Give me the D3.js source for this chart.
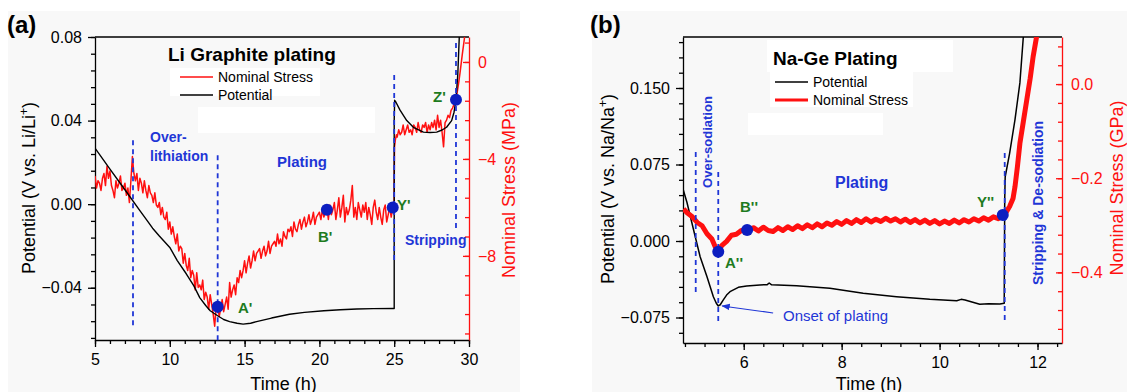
<!DOCTYPE html>
<html>
<head>
<meta charset="utf-8">
<script src="https://cdn.jsdelivr.net/npm/d3@7"></script>
<style>
  body { margin: 0; background: #fff; }
  svg text { font-family: "Liberation Sans", Arial, sans-serif; }
</style>
</head>
<body>
<div id="chart"></div>
<script>
// ---------- panel (a): Li graphite plating ----------
// potential (V vs Li/Li+)
let potentialA = [
  [5.0, 0.0268], [6.0, 0.0168], [7.0, 0.0069], [8.0, -0.0031], [8.5, -0.008], [8.85, -0.0115],
  [9.3, -0.0152], [10.0, -0.0207], [10.5, -0.027], [11.1, -0.0333], [11.6, -0.039],
  [12.0, -0.0447], [12.4, -0.0485], [12.7, -0.051], [13.2, -0.0534], [13.6, -0.0552], [14.0, -0.0562],
  [14.5, -0.057], [14.9, -0.0574], [15.4, -0.057], [15.8, -0.0562], [16.8, -0.0545], [18.0, -0.0527],
  [19.0, -0.0518], [20.3, -0.051], [21.4, -0.0505], [22.5, -0.0502], [23.6, -0.05], [24.95, -0.0499],
  [25.0, -0.0499], [25.0, 0.040], [25.03, 0.0497], [25.1, 0.049], [25.39, 0.045], [25.84, 0.040],
  [26.28, 0.0368], [26.95, 0.0345], [27.4, 0.0343], [27.84, 0.0345], [28.2, 0.0355], [28.5, 0.0368],
  [28.84, 0.040], [29.0, 0.044], [29.13, 0.050], [29.25, 0.062], [29.35, 0.080], [29.42, 0.090]
];

// nominal stress (MPa), noisy red trace
let stressA = [
  [5.0, -4.7], [5.1, -5.2], [5.2, -4.9], [5.3, -5.0], [5.4, -5.3], [5.5, -4.8], [5.6, -4.6], [5.7, -5.1], [5.8, -4.3], [5.9, -4.8],
  [6.0, -4.5], [6.1, -5.1], [6.2, -5.3], [6.3, -5.6], [6.4, -4.9], [6.5, -5.2], [6.6, -5.0], [6.7, -4.7], [6.8, -5.3], [6.9, -5.2],
  [7.0, -5.0], [7.1, -5.5], [7.2, -5.2], [7.3, -5.8], [7.4, -4.9], [7.5, -3.9], [7.6, -4.6], [7.7, -4.9], [7.8, -4.6], [7.9, -5.3],
  [8.0, -4.8], [8.1, -5.0], [8.2, -5.4], [8.3, -4.9], [8.4, -5.3], [8.5, -5.6], [8.6, -5.1], [8.7, -5.4], [8.8, -5.5], [8.9, -5.8],
  [9.0, -5.4], [9.1, -5.9], [9.2, -6.0], [9.3, -5.8], [9.4, -6.3], [9.5, -6.0], [9.6, -6.4], [9.7, -6.5], [9.8, -6.2], [9.9, -6.9],
  [10.0, -6.6], [10.1, -7.1], [10.2, -6.8], [10.3, -7.2], [10.4, -7.5], [10.5, -7.1], [10.6, -7.8], [10.7, -7.6], [10.8, -7.7], [10.9, -8.3],
  [11.0, -7.9], [11.1, -8.4], [11.2, -8.6], [11.3, -8.1], [11.4, -8.9], [11.5, -8.6], [11.6, -8.8], [11.7, -9.4], [11.8, -8.7], [11.9, -9.3],
  [12.0, -9.2], [12.1, -9.4], [12.2, -9.0], [12.3, -9.8], [12.4, -9.5], [12.5, -9.7], [12.6, -10.2], [12.7, -9.6], [12.8, -10.0], [12.9, -10.4],
  [13.0, -10.9], [13.1, -10.1], [13.2, -10.0], [13.3, -10.5], [13.4, -10.2], [13.5, -9.8], [13.6, -10.3], [13.7, -10.0], [13.8, -9.7], [13.9, -10.2],
  [14.0, -9.1], [14.1, -9.7], [14.2, -9.4], [14.3, -9.2], [14.4, -9.6], [14.5, -8.9], [14.6, -9.1], [14.7, -8.6], [14.8, -8.9], [14.9, -8.6],
  [15.0, -8.2], [15.1, -8.7], [15.2, -8.3], [15.3, -8.0], [15.4, -8.5], [15.5, -8.2], [15.6, -7.8], [15.7, -8.2], [15.8, -7.9], [15.9, -7.8],
  [16.0, -7.7], [16.1, -8.1], [16.2, -7.8], [16.3, -7.6], [16.4, -8.0], [16.5, -7.8], [16.6, -7.4], [16.7, -7.9], [16.8, -7.6], [16.9, -7.5],
  [17.0, -7.4], [17.1, -7.6], [17.2, -7.1], [17.3, -7.5], [17.4, -7.3], [17.5, -7.6], [17.6, -7.0], [17.7, -7.2], [17.8, -7.3], [17.9, -6.9],
  [18.0, -7.0], [18.1, -6.8], [18.2, -7.2], [18.3, -6.6], [18.4, -6.9], [18.5, -7.0], [18.6, -6.7], [18.7, -6.5], [18.8, -6.9], [18.9, -6.6],
  [19.0, -6.4], [19.1, -6.8], [19.2, -6.6], [19.3, -6.3], [19.4, -6.7], [19.5, -6.5], [19.6, -6.2], [19.7, -6.7], [19.8, -6.4], [19.9, -6.3],
  [20.0, -6.2], [20.1, -6.5], [20.2, -6.1], [20.3, -6.4], [20.4, -6.2], [20.5, -6.0], [20.6, -6.5], [20.7, -5.9], [20.8, -6.3], [20.9, -6.1],
  [21.0, -5.8], [21.1, -6.5], [21.2, -6.1], [21.3, -5.6], [21.4, -6.4], [21.5, -6.0], [21.6, -5.5], [21.7, -6.6], [21.8, -6.0], [21.9, -6.3],
  [22.0, -6.1], [22.1, -5.7], [22.2, -5.1], [22.3, -6.4], [22.4, -6.0], [22.5, -6.5], [22.6, -5.8], [22.7, -6.1], [22.8, -6.4], [22.9, -5.9],
  [23.0, -6.2], [23.1, -5.8], [23.2, -6.5], [23.3, -6.0], [23.4, -6.3], [23.5, -6.7], [23.6, -6.0], [23.7, -5.7], [23.8, -6.2], [23.9, -6.5],
  [24.0, -6.0], [24.1, -6.4], [24.2, -6.7], [24.3, -6.1], [24.4, -5.9], [24.5, -6.6], [24.6, -6.3], [24.7, -6.0], [24.8, -6.4], [24.9, -6.0],
  [25.0, -6.0], [25.0, -5.0], [25.02, -3.5], [25.08, -3.2], [25.15, -3.0],
  [25.2, -3.1], [25.3, -2.8], [25.4, -3.0], [25.5, -2.9], [25.6, -2.6], [25.7, -3.0], [25.8, -2.8], [25.9, -2.6], [26.0, -2.9], [26.1, -2.8],
  [26.2, -3.0], [26.3, -2.6], [26.4, -2.7], [26.5, -2.9], [26.6, -2.5], [26.7, -2.8], [26.8, -2.9], [26.9, -2.6], [27.0, -2.7], [27.1, -2.5],
  [27.2, -2.9], [27.3, -2.6], [27.4, -2.8], [27.5, -2.5], [27.6, -2.7], [27.7, -2.4], [27.8, -2.8], [27.9, -2.2], [28.0, -2.7], [28.1, -2.4],
  [28.2, -2.9], [28.3, -3.5], [28.4, -2.5], [28.5, -2.4], [28.6, -2.2], [28.7, -2.3], [28.8, -2.0], [28.9, -1.9], [29.0, -1.75], [29.13, -1.56],
  [29.3, -0.9], [29.4, -0.45], [29.55, 0.3], [29.7, 1.0], [29.75, 1.3]
];

// dashed markers: [time, top potential, bottom potential]
let dashesA = [[7.54, 0.0306, -0.0583], [13.2, 0.0234, -0.066], [25.0, 0.0618, -0.027], [29.13, 0.0771, -0.0127]];
// labelled points on the stress trace: [name, time, stress]
let pointsA = [["A'", 13.2, -10.1], ["B'", 20.5, -6.1], ["Y'", 24.9, -6.0], ["Z'", 29.13, -1.56]];

let xTicksA = [5, 10, 15, 20, 25, 30];
let potTicksA = [0.08, 0.04, 0.0, -0.04];
let stressTicksA = [0, -4, -8];

// ---------- panel (b): Na-Ge plating ----------
let potentialB = [
  [4.76, 0.051], [4.84, 0.038], [4.91, 0.024], [5.01, 0.0042], [5.11, -0.0154], [5.25, -0.035],
  [5.38, -0.0546], [5.44, -0.061], [5.48, -0.0637], [5.52, -0.0625], [5.58, -0.058], [5.65, -0.053],
  [5.72, -0.0497], [5.89, -0.0454], [6.06, -0.0441], [6.33, -0.0431], [6.48, -0.0428], [6.52, -0.0412],
  [6.57, -0.043], [7.08, -0.0438], [7.76, -0.0464], [8.44, -0.0513], [9.12, -0.0546], [9.8, -0.0572],
  [10.35, -0.0585], [10.44, -0.0572], [10.52, -0.0578], [10.82, -0.062], [11.0, -0.0615], [11.23, -0.0618],
  [11.32, -0.061], [11.33, 0.040], [11.34, 0.063], [11.43, 0.086], [11.54, 0.119], [11.64, 0.155], [11.71, 0.2], [11.74, 0.215]
];

let stressB = [
  [4.77, -0.265], [4.85, -0.274], [4.95, -0.282], [5.05, -0.294], [5.15, -0.301], [5.25, -0.318], [5.35, -0.329],
  [5.42, -0.346], [5.48, -0.357], [5.55, -0.343], [5.65, -0.334], [5.75, -0.321], [5.85, -0.319], [5.95, -0.311],
  [6.07, -0.312], [6.2, -0.305], [6.3, -0.312], [6.4, -0.304], [6.5, -0.311], [6.6, -0.313], [6.7, -0.305],
  [6.8, -0.311], [6.9, -0.303], [7.0, -0.309], [7.1, -0.301], [7.2, -0.307], [7.3, -0.299], [7.4, -0.305],
  [7.5, -0.297], [7.6, -0.303], [7.7, -0.295], [7.8, -0.300], [7.9, -0.292], [8.0, -0.298], [8.1, -0.290],
  [8.2, -0.296], [8.3, -0.288], [8.4, -0.294], [8.5, -0.286], [8.6, -0.293], [8.7, -0.287], [8.8, -0.292],
  [8.9, -0.285], [9.0, -0.291], [9.1, -0.286], [9.2, -0.293], [9.3, -0.287], [9.4, -0.294], [9.5, -0.288],
  [9.6, -0.295], [9.7, -0.289], [9.8, -0.296], [9.9, -0.290], [10.0, -0.297], [10.1, -0.291], [10.2, -0.296],
  [10.3, -0.289], [10.4, -0.295], [10.5, -0.288], [10.6, -0.293], [10.7, -0.286], [10.8, -0.291], [10.9, -0.284],
  [11.0, -0.289], [11.1, -0.282], [11.2, -0.286], [11.29, -0.278], [11.36, -0.272], [11.43, -0.260],
  [11.5, -0.243], [11.54, -0.218], [11.59, -0.175], [11.64, -0.126], [11.71, -0.08], [11.78, -0.034],
  [11.85, 0.012], [11.91, 0.058], [11.98, 0.1], [12.0, 0.115]
];

let dashesB = [[5.02, 0.0873, -0.053], [5.48, 0.0676, -0.0824], [11.33, 0.0863, -0.0804]];
let pointsB = [["A''", 5.48, -0.356], ["B''", 6.07, -0.31], ["Y''", 11.29, -0.278]];

let xTicksB = [6, 8, 10, 12];
let potTicksB = [0.15, 0.075, 0.0, -0.075];
let stressTicksB = [0.0, -0.2, -0.4];

// ---------- layout ----------
let svgWidth = 1127;
let svgHeight = 392;

let blue = "#1f36d6";
let dotBlue = "#0c1ec0";
let green = "#1e7b1e";
let red = "#ff1010";

let svg = d3.select("#chart")
  .append("svg")
  .attr("width", svgWidth)
  .attr("height", svgHeight);

// light grey panel backgrounds
svg.append("rect").attr("x", 8).attr("y", 11).attr("width", 512).attr("height", 381).attr("fill", "#f8f8f8");
svg.append("rect").attr("x", 592).attr("y", 11).attr("width", 535).attr("height", 381).attr("fill", "#f8f8f8");

// scales
let xA = d3.scaleLinear().domain([5, 30]).range([95, 469]);
let potA = d3.scaleLinear().domain([-0.065, 0.08]).range([340, 37]);
let sA = d3.scaleLinear().domain([-11.47, 1.03]).range([340, 37]);

let xB = d3.scaleLinear().domain([4.76, 12.5]).range([683, 1062]);
let potB = d3.scaleLinear().domain([-0.1, 0.2]).range([343, 37]);
let sB = d3.scaleLinear().domain([-0.55, 0.1]).range([343, 37]);

// minor tick positions (4 minors per major, Origin style)
function minorTicks(start, stop, step) {
  let out = [];
  for (let v = start; v <= stop + step / 10; v += step) out.push(+v.toFixed(4));
  return out;
}

function styleAxis(g, color) {
  g.selectAll("path, line").attr("stroke", color).attr("stroke-width", 1.3);
  g.selectAll("text").attr("fill", color).attr("font-size", 16)
    .attr("font-family", "'Liberation Sans', Arial, sans-serif");
}

function drawAxes(cfg) {
  let { x, yL, yR, xMaj, xMin, lMaj, lMin, rMaj, rMin, lFmt, rFmt } = cfg;
  let x0 = x.range()[0], x1 = x.range()[1];
  let yb = yL.range()[0], yt = yL.range()[1];

  // top frame line
  svg.append("line").attr("x1", x0).attr("x2", x1).attr("y1", yt).attr("y2", yt)
    .attr("stroke", "#000").attr("stroke-width", 1.3);

  // bottom
  let gbMin = svg.append("g").attr("transform", `translate(0,${yb})`)
    .call(d3.axisBottom(x).tickValues(xMin).tickFormat("").tickSize(4).tickSizeOuter(0));
  gbMin.select(".domain").remove();
  styleAxis(gbMin, "#000");
  let gb = svg.append("g").attr("transform", `translate(0,${yb})`)
    .call(d3.axisBottom(x).tickValues(xMaj).tickFormat(d3.format("d")).tickSize(7).tickPadding(7).tickSizeOuter(0));
  styleAxis(gb, "#000");

  // left
  let glMin = svg.append("g").attr("transform", `translate(${x0},0)`)
    .call(d3.axisLeft(yL).tickValues(lMin).tickFormat("").tickSize(4).tickSizeOuter(0));
  glMin.select(".domain").remove();
  styleAxis(glMin, "#000");
  let gl = svg.append("g").attr("transform", `translate(${x0},0)`)
    .call(d3.axisLeft(yL).tickValues(lMaj).tickFormat(d3.format(lFmt)).tickSize(7).tickPadding(6).tickSizeOuter(0));
  styleAxis(gl, "#000");

  // right (red, ticks inward)
  let grMin = svg.append("g").attr("transform", `translate(${x1},0)`)
    .call(d3.axisRight(yR).tickValues(rMin).tickFormat("").tickSize(-4).tickSizeOuter(0));
  grMin.select(".domain").remove();
  styleAxis(grMin, red);
  let gr = svg.append("g").attr("transform", `translate(${x1},0)`)
    .call(d3.axisRight(yR).tickValues(rMaj).tickFormat(d3.format(rFmt)).tickSize(-6).tickPadding(9).tickSizeOuter(0));
  styleAxis(gr, red);
}

drawAxes({
  x: xA, yL: potA, yR: sA,
  xMaj: xTicksA, xMin: minorTicks(5, 30, 1),
  lMaj: potTicksA, lMin: minorTicks(-0.064, 0.08, 0.008),
  rMaj: stressTicksA, rMin: minorTicks(-11.2, 0.8, 0.8),
  lFmt: ".2f", rFmt: "d"
});

drawAxes({
  x: xB, yL: potB, yR: sB,
  xMaj: xTicksB, xMin: minorTicks(4.8, 12.4, 0.4),
  lMaj: potTicksB, lMin: minorTicks(-0.09, 0.195, 0.015),
  rMaj: stressTicksB, rMin: minorTicks(-0.52, 0.08, 0.04),
  lFmt: ".3f", rFmt: ".1f"
});

// clip paths
let defs = svg.append("defs");
defs.append("clipPath").attr("id", "clipA").append("rect")
  .attr("x", 95).attr("y", 37).attr("width", 374).attr("height", 303);
defs.append("clipPath").attr("id", "clipB").append("rect")
  .attr("x", 683).attr("y", 37).attr("width", 379).attr("height", 306);
defs.append("marker").attr("id", "arrow").attr("viewBox", "0 0 10 10")
  .attr("refX", 9).attr("refY", 5).attr("markerWidth", 7).attr("markerHeight", 7)
  .attr("orient", "auto")
  .append("path").attr("d", "M0,1 L10,5 L0,9 Z").attr("fill", blue);

// white patches on the figure
[[170, 68, 150, 28], [198, 107, 177, 26], [767, 40, 186, 32], [770, 72, 143, 35], [748, 113, 135, 22]]
  .forEach(r => {
    svg.append("rect").attr("x", r[0]).attr("y", r[1]).attr("width", r[2]).attr("height", r[3]).attr("fill", "#fff");
  });

// ---------- curves ----------
let plotA = svg.append("g").attr("clip-path", "url(#clipA)");
let plotB = svg.append("g").attr("clip-path", "url(#clipB)");

plotA.append("path")
  .datum(stressA)
  .attr("d", d3.line().x(d => xA(d[0])).y(d => sA(d[1])))
  .attr("fill", "none").attr("stroke", red).attr("stroke-width", 1.5).attr("stroke-linejoin", "round");

plotA.append("path")
  .datum(potentialA)
  .attr("d", d3.line().x(d => xA(d[0])).y(d => potA(d[1])))
  .attr("fill", "none").attr("stroke", "#000").attr("stroke-width", 1.4).attr("stroke-linejoin", "round");

plotB.append("path")
  .datum(potentialB)
  .attr("d", d3.line().x(d => xB(d[0])).y(d => potB(d[1])))
  .attr("fill", "none").attr("stroke", "#000").attr("stroke-width", 1.5).attr("stroke-linejoin", "round");

plotB.append("path")
  .datum(stressB)
  .attr("d", d3.line().x(d => xB(d[0])).y(d => sB(d[1])))
  .attr("fill", "none").attr("stroke", red).attr("stroke-width", 5).attr("stroke-linejoin", "round");

// dashed region markers
svg.append("g").selectAll("line").data(dashesA).enter().append("line")
  .attr("x1", d => xA(d[0])).attr("x2", d => xA(d[0]))
  .attr("y1", d => potA(d[1])).attr("y2", d => potA(d[2]))
  .attr("stroke", blue).attr("stroke-width", 1.8).attr("stroke-dasharray", "5,4");

svg.append("g").selectAll("line").data(dashesB).enter().append("line")
  .attr("x1", d => xB(d[0])).attr("x2", d => xB(d[0]))
  .attr("y1", d => potB(d[1])).attr("y2", d => potB(d[2]))
  .attr("stroke", blue).attr("stroke-width", 1.8).attr("stroke-dasharray", "5,4");

// points
svg.append("g").selectAll("circle").data(pointsA).enter().append("circle")
  .attr("cx", d => xA(d[1])).attr("cy", d => sA(d[2])).attr("r", 6).attr("fill", dotBlue);
svg.append("g").selectAll("circle").data(pointsB).enter().append("circle")
  .attr("cx", d => xB(d[1])).attr("cy", d => sB(d[2])).attr("r", 6).attr("fill", dotBlue);

// ---------- text ----------
function addText(x, y, str, opts) {
  let t = svg.append("text").attr("x", x).attr("y", y).text(str)
    .attr("font-size", opts.size || 14)
    .attr("font-weight", opts.bold ? "bold" : "normal")
    .attr("fill", opts.color || "#000")
    .attr("text-anchor", opts.anchor || "start");
  if (opts.rotate) t.attr("transform", `rotate(-90, ${x}, ${y})`);
  return t;
}

// panel letters
addText(7, 33, "(a)", { size: 24, bold: true });
addText(590, 33, "(b)", { size: 24, bold: true });

// axis titles
let tA = addText(34.5, 188, "Potential (V vs. Li/Li", { size: 18, anchor: "middle", rotate: true });
tA.append("tspan").attr("font-size", 12).attr("dy", -7).text("+");
tA.append("tspan").attr("dy", 7).text(")");
addText(514.5, 190, "Nominal Stress (MPa)", { size: 18, anchor: "middle", rotate: true, color: red });
addText(283.5, 389.5, "Time (h)", { size: 18, anchor: "middle" });

let tB = addText(613.5, 189, "Potential (V vs. Na/Na", { size: 18, anchor: "middle", rotate: true });
tB.append("tspan").attr("font-size", 12).attr("dy", -7).text("+");
tB.append("tspan").attr("dy", 7).text(")");
addText(1123, 188, "Nominal Stress (GPa)", { size: 18, anchor: "middle", rotate: true, color: red });
addText(869, 389.5, "Time (h)", { size: 18, anchor: "middle" });

// titles and legends
addText(168, 61, "Li Graphite plating", { size: 19, bold: true });
svg.append("line").attr("x1", 180).attr("x2", 213).attr("y1", 77).attr("y2", 77).attr("stroke", red).attr("stroke-width", 1.6);
addText(218, 82, "Nominal Stress", { size: 14 });
svg.append("line").attr("x1", 180).attr("x2", 213).attr("y1", 95).attr("y2", 95).attr("stroke", "#000").attr("stroke-width", 1.4);
addText(218, 100, "Potential", { size: 14 });

addText(773, 65, "Na-Ge Plating", { size: 19, bold: true });
svg.append("line").attr("x1", 775).attr("x2", 808).attr("y1", 82).attr("y2", 82).attr("stroke", "#000").attr("stroke-width", 1.4);
addText(813, 87, "Potential", { size: 14 });
svg.append("line").attr("x1", 775).attr("x2", 808).attr("y1", 100).attr("y2", 100).attr("stroke", red).attr("stroke-width", 3);
addText(813, 105, "Nominal Stress", { size: 14 });

// region annotations
addText(150, 142, "Over-", { size: 14, bold: true, color: blue });
addText(150, 161, "lithiation", { size: 14, bold: true, color: blue });
addText(277, 167, "Plating", { size: 15, bold: true, color: blue });
addText(405, 245, "Stripping", { size: 14, bold: true, color: blue });

addText(835, 188, "Plating", { size: 16, bold: true, color: blue });
addText(712, 142, "Over-sodiation", { size: 13, bold: true, color: blue, anchor: "middle", rotate: true });
addText(1043, 203, "Stripping & De-sodiation", { size: 14, bold: true, color: blue, anchor: "middle", rotate: true });
addText(783, 321, "Onset of plating", { size: 15, color: blue });
svg.append("line")
  .attr("x1", xB(6.6)).attr("y1", potB(-0.0706))
  .attr("x2", xB(5.56)).attr("y2", potB(-0.0637))
  .attr("stroke", blue).attr("stroke-width", 1.2).attr("marker-end", "url(#arrow)");

// point labels
addText(238, 313, "A'", { size: 15, bold: true, color: green });
addText(318, 242, "B'", { size: 15, bold: true, color: green });
addText(397, 210, "Y'", { size: 15, bold: true, color: green });
addText(433, 102, "Z'", { size: 15, bold: true, color: green });
addText(725, 268, "A''", { size: 15, bold: true, color: green });
addText(740, 212, "B''", { size: 15, bold: true, color: green });
addText(977, 207, "Y''", { size: 15, bold: true, color: green });
</script>
</body>
</html>
